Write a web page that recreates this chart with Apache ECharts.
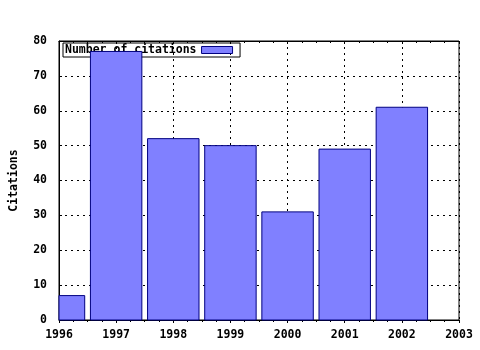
<!DOCTYPE html>
<html><head><meta charset="utf-8">
<script src="https://cdn.jsdelivr.net/npm/echarts@6/dist/echarts.min.js"></script>
<style>html,body{margin:0;padding:0;background:#fff}#c{width:480px;height:350px}</style>
</head><body><div id="c"></div>
<script>
const years = [1996, 1997, 1998, 1999, 2000, 2001, 2002];
const citations = [7, 77, 52, 50, 31, 49, 61];
const seriesName = 'Number of citations';
const yTitle = 'Citations';
const xMin = 1996, xMax = 2003;
const yMin = 0, yMax = 80;
const barFraction = 0.9;

const font = 'DejaVu Sans Mono';
const chart = echarts.init(document.getElementById('c'), null, {renderer: 'canvas'});
const labelStyle = {color: '#000', fontFamily: font, fontWeight: 'bold', fontSize: 11.5};
const barStyle = {color: '#8080ff', borderColor: '#000080', borderWidth: 1};

function renderBar(params, api) {
  const x = api.value(0), v = api.value(1);
  const p0 = api.coord([x - barFraction / 2, v]);
  const p1 = api.coord([x + barFraction / 2, yMin]);
  const cs = params.coordSys;
  const shape = echarts.graphic.clipRectByRect(
    {x: p0[0], y: p0[1], width: p1[0] - p0[0], height: p1[1] - p0[1]},
    {x: cs.x, y: cs.y, width: cs.width, height: cs.height});
  if (!shape) return null;
  return {type: 'rect', shape: shape, style: {fill: barStyle.color, stroke: barStyle.borderColor, lineWidth: 1}};
}

chart.setOption({
  animation: false,
  backgroundColor: '#fff',
  grid: {left: 57, right: 21, top: 41, bottom: 30, show: true, borderColor: '#000', borderWidth: 1, backgroundColor: 'transparent'},
  legend: {
    show: true, left: 63, top: 43, z: 0, zlevel: 0,
    align: 'right', orient: 'horizontal',
    backgroundColor: '#fff', borderColor: '#000', borderWidth: 1, borderRadius: 0,
    padding: [1, 7, 1, 2], itemWidth: 31, itemHeight: 7, itemGap: 7,
    textStyle: Object.assign({}, labelStyle),
    data: [{name: seriesName, icon: 'rect', itemStyle: barStyle}]
  },
  xAxis: [{
    type: 'value', min: xMin, max: xMax, interval: 1,
    axisLine: {show: true, lineStyle: {color: '#000', width: 1}},
    axisTick: {show: true, inside: false, length: 3, lineStyle: {color: '#000'}},
    minorTick: {show: true, splitNumber: 4, length: 2, lineStyle: {color: '#000'}},
    axisLabel: Object.assign({}, labelStyle, {margin: 9, formatter: v => String(v)}),
    splitLine: {show: true, lineStyle: {color: '#000', type: [2, 4], width: 1}}
  }, {
    type: 'value', min: xMin, max: xMax, interval: 1, position: 'top',
    axisLine: {show: true, lineStyle: {color: '#000'}},
    axisTick: {show: true, inside: true, length: 3, lineStyle: {color: '#000'}},
    minorTick: {show: true, splitNumber: 4, length: 2, lineStyle: {color: '#000'}},
    axisLabel: {show: false}, splitLine: {show: false}
  }],
  yAxis: {
    type: 'value', min: yMin, max: yMax, interval: 10,
    name: yTitle, nameLocation: 'middle', nameGap: 39, nameRotate: 90,
    nameTextStyle: labelStyle,
    axisLine: {show: true, lineStyle: {color: '#000'}},
    axisTick: {show: true, inside: true, length: 3, lineStyle: {color: '#000'}},
    axisLabel: Object.assign({}, labelStyle, {margin: 12}),
    splitLine: {show: true, lineStyle: {color: '#000', type: [2, 4], width: 1}}
  },
  series: [{
    name: seriesName, type: 'custom', z: 10, zlevel: 1,
    itemStyle: barStyle,
    renderItem: renderBar,
    encode: {x: 0, y: 1},
    data: years.map((y, i) => [y, citations[i]])
  }]
});
</script></body></html>
